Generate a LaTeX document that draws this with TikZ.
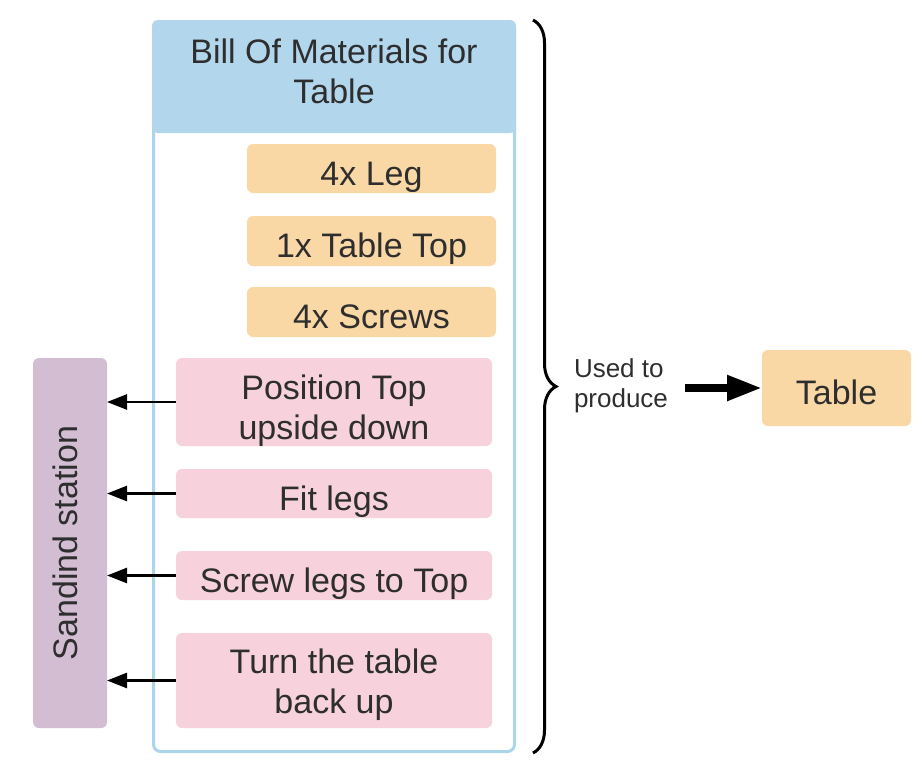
\documentclass[tikz,border=0pt]{standalone}
\usepackage{fontspec}
\setmainfont{Liberation Sans}
\usetikzlibrary{arrows.meta,decorations.pathreplacing}
\definecolor{txt}{HTML}{2E2E2E}
\definecolor{bord}{HTML}{ABD5E8}
\definecolor{hdrfill}{HTML}{B2D7EC}
\definecolor{peach}{HTML}{FAD8A6}
\definecolor{pinkf}{HTML}{F7D2DC}
\definecolor{purplef}{HTML}{D3BDD3}
\begin{document}
\begin{tikzpicture}[x=1pt,y=-1pt,
  every node/.style={text=txt, inner sep=0pt, outer sep=0pt},
  bigtext/.style={font=\fontsize{34}{39.5}\selectfont, align=center, text height=33pt, text depth=0pt},
  matbox/.style={bigtext, fill=peach, rounded corners=6pt},
  stepbox/.style={bigtext, fill=pinkf, rounded corners=6pt, minimum width=316pt},
  sarrow/.style={line width=2.5pt, -{Triangle[length=20pt,width=15pt]}},
]
\useasboundingbox (0,0) rectangle (922,777);

% container
\node[draw=bord, line width=3pt, rounded corners=7pt, minimum width=361pt, minimum height=730pt] (bom) at (334,386.5) {};
\node[bigtext, text height=53pt, fill=hdrfill, rounded corners=6pt, minimum width=364pt, minimum height=113pt] (hdr) at (334,76.5) {Bill Of Materials for\\Table};

% materials
\node[matbox, minimum width=249pt, minimum height=49pt] (leg) at (371.5,168.5) {4x Leg};
\node[matbox, minimum width=249pt, minimum height=50pt] (top) at (371.5,241) {1x Table Top};
\node[matbox, minimum width=249pt, minimum height=50pt] (scr) at (371.5,312) {4x Screws};

% steps
\node[stepbox, text height=74pt, minimum height=88pt] (s1) at (334,402) {Position Top\\upside down};
\node[stepbox, minimum height=49pt] (s2) at (334,493.5) {Fit legs};
\node[stepbox, minimum height=49pt] (s3) at (334,575.5) {Screw legs to Top};
\node[stepbox, text height=65pt, minimum height=95pt] (s4) at (334,680.5) {Turn the table\\back up};

% station
\node[fill=purplef, rounded corners=6pt, rotate=90, minimum width=370pt, minimum height=74pt,
      font=\fontsize{34}{40}\selectfont, text height=24pt, text depth=10pt] (sand) at (70,543) {Sandind station};

\draw[sarrow] (s1.west) -- (s1.west -| sand.south);
\draw[sarrow] (s2.west) -- (s2.west -| sand.south);
\draw[sarrow] (s3.west) -- (s3.west -| sand.south);
\draw[sarrow] (s4.west) -- (s4.west -| sand.south);

% brace
\coordinate (bt) at (533,20);
\coordinate (bb) at (533,753);
\draw[line width=3pt, decorate, decoration={brace, amplitude=23pt}] (bt) -- (bb);

% result
\node[font=\fontsize{26}{30}\selectfont, align=left, anchor=base west] (used) at (574,407) {Used to\\produce};
\node[bigtext, fill=peach, rounded corners=6pt, minimum width=149pt, minimum height=76pt] (table) at (836.5,388) {Table};
\coordinate (arrstart) at (685,388);
\draw[line width=8pt, -{Triangle[length=35pt,width=24pt]}] (arrstart) -- (table.west);
\end{tikzpicture}
\end{document}
